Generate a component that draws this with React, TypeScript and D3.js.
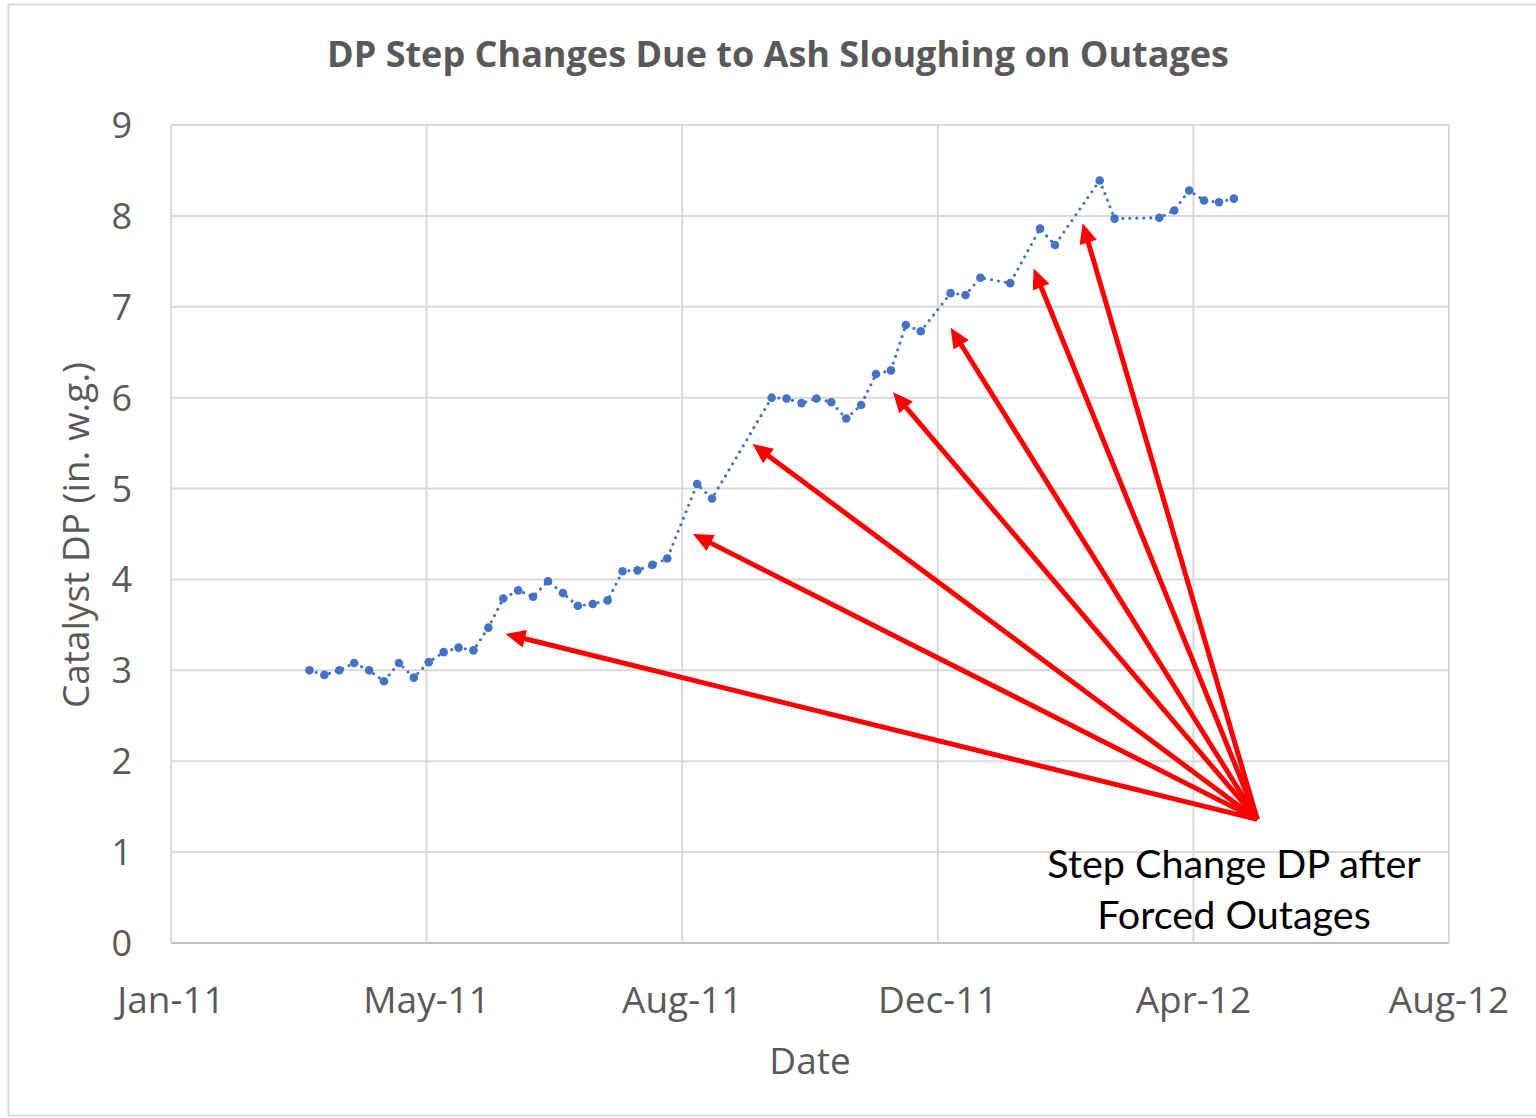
import React from "react";
import * as d3 from "d3";

const dates = [
  "2011-03-07","2011-03-14","2011-03-21","2011-03-28","2011-04-04","2011-04-11","2011-04-18","2011-04-25",
  "2011-05-02","2011-05-09","2011-05-16","2011-05-23","2011-05-30","2011-06-06","2011-06-13","2011-06-20",
  "2011-06-27","2011-07-04","2011-07-11","2011-07-18","2011-07-25","2011-08-01","2011-08-08","2011-08-15",
  "2011-08-22","2011-09-05","2011-09-12","2011-10-10","2011-10-17","2011-10-24","2011-10-31","2011-11-07",
  "2011-11-14","2011-11-21","2011-11-28","2011-12-05","2011-12-12","2011-12-19","2012-01-02","2012-01-09",
  "2012-01-16","2012-01-30","2012-02-13","2012-02-20","2012-03-12","2012-03-19","2012-04-09","2012-04-16",
  "2012-04-23","2012-04-30","2012-05-07","2012-05-14",
];
const dpValues = [
  3.0, 2.95, 3.0, 3.08, 3.0, 2.88, 3.08, 2.92,
  3.09, 3.2, 3.25, 3.22, 3.47, 3.79, 3.88, 3.81,
  3.98, 3.85, 3.71, 3.73, 3.77, 4.09, 4.1, 4.16,
  4.23, 5.05, 4.89, 6.0, 5.99, 5.94, 5.99, 5.95,
  5.77, 5.92, 6.26, 6.3, 6.8, 6.73, 7.15, 7.13,
  7.32, 7.26, 7.86, 7.68, 8.39, 7.97, 7.98, 8.06,
  8.28, 8.17, 8.15, 8.19,
];

const xTickDates = ["2011-01-01", "2011-05-01", "2011-08-29", "2011-12-27", "2012-04-25", "2012-08-23"];
const xTickLabels = ["Jan-11", "May-11", "Aug-11", "Dec-11", "Apr-12", "Aug-12"];
const yTicks = [0, 1, 2, 3, 4, 5, 6, 7, 8, 9];

const arrowTailDate = "2012-05-25";
const arrowTailValue = 1.36;
const arrowHeadDates = ["2011-06-07", "2011-09-03", "2011-10-01", "2011-12-06", "2012-01-02", "2012-02-10", "2012-03-04"];
const arrowHeadValues = [3.4, 4.5, 5.49, 6.06, 6.77, 7.42, 7.92];

const titleText = "DP Step Changes Due to Ash Sloughing on Outages";
const yTitle = "Catalyst DP (in. w.g.)";
const xTitle = "Date";
const noteLines = ["Step Change DP after", "Forced Outages"];

const parse = (s: string) => new Date(s + "T00:00:00Z");

export default function App() {
  const W = 1536, H = 1118;
  const left = 171, right = 1449, top = 125, bottom = 943;
  const x = d3.scaleUtc().domain([parse(xTickDates[0]), parse(xTickDates[xTickDates.length - 1])]).range([left, right]);
  const y = d3.scaleLinear().domain([0, 9]).range([bottom, top]);
  const pts = dates.map((d, i) => ({ d: parse(d), v: dpValues[i] }));
  const line = d3.line<{ d: Date; v: number }>().x((p) => x(p.d)).y((p) => y(p.v));
  const blue = "#4472C4";
  const grid = "#d9d9d9";
  const labelColor = "#595959";
  const font = "'Open Sans', sans-serif";

  const tx = x(parse(arrowTailDate));
  const ty = y(arrowTailValue);
  const arrows = arrowHeadDates.map((d, i) => {
    const hx = x(parse(d));
    const hy = y(arrowHeadValues[i]);
    const dx = hx - tx, dy = hy - ty;
    const len = Math.sqrt(dx * dx + dy * dy);
    const ux = dx / len, uy = dy / len;
    const headLen = 20, headW = 9;
    const bx = hx - ux * headLen, by = hy - uy * headLen;
    const px = -uy, py = ux;
    const tri = `${hx},${hy} ${bx + px * headW},${by + py * headW} ${bx - px * headW},${by - py * headW}`;
    return { x1: tx, y1: ty, x2: bx + ux * 2, y2: by + uy * 2, tri };
  });

  return (
    <svg width={W} height={H} style={{ position: "absolute", left: 0, top: 0, background: "#fff" }}>
      <rect x={8.5} y={4.5} width={W} height={1111} fill="#fff" stroke={grid} strokeWidth={2} />
      <text x={778} y={67} textAnchor="middle" fontFamily={font} fontWeight={700} fontSize={36} fill={labelColor}>
        {titleText}
      </text>
      {yTicks.map((t) => (
        <line key={"gy" + t} x1={left} x2={right} y1={y(t)} y2={y(t)} stroke={t === 0 ? "#bfbfbf" : grid} strokeWidth={2} />
      ))}
      {xTickDates.map((d) => (
        <line key={"gx" + d} x1={x(parse(d))} x2={x(parse(d))} y1={top} y2={bottom} stroke={grid} strokeWidth={2} />
      ))}
      {yTicks.map((t) => (
        <text key={"ty" + t} x={132} y={y(t)} dy="0.36em" textAnchor="end" fontFamily={font} fontSize={36} fill={labelColor}>
          {t}
        </text>
      ))}
      {xTickDates.map((d, i) => (
        <text key={"tx" + d} x={x(parse(d))} y={1013} textAnchor="middle" fontFamily={font} fontSize={37} fill={labelColor}>
          {xTickLabels[i]}
        </text>
      ))}
      <text x={810} y={1074} textAnchor="middle" fontFamily={font} fontSize={37} fill={labelColor}>
        {xTitle}
      </text>
      <text transform={`translate(89,535) rotate(-90)`} textAnchor="middle" fontFamily={font} fontSize={37} fill={labelColor}>
        {yTitle}
      </text>
      <path d={line(pts) || ""} fill="none" stroke={blue} strokeWidth={3.2} strokeDasharray="0 7" strokeLinecap="round" />
      {pts.map((p, i) => (
        <circle key={"c" + i} cx={x(p.d)} cy={y(p.v)} r={4.3} fill={blue} />
      ))}
      {arrows.map((a, i) => (
        <g key={"a" + i}>
          <line x1={a.x1} y1={a.y1} x2={a.x2} y2={a.y2} stroke="#ff0000" strokeWidth={5} />
          <polygon points={a.tri} fill="#ff0000" />
        </g>
      ))}
      {noteLines.map((s, i) => (
        <text key={"n" + i} x={1234} y={878 + i * 51} textAnchor="middle" fontFamily="Lato, sans-serif" fontSize={39.5} fill="#000">
          {s}
        </text>
      ))}
    </svg>
  );
}
